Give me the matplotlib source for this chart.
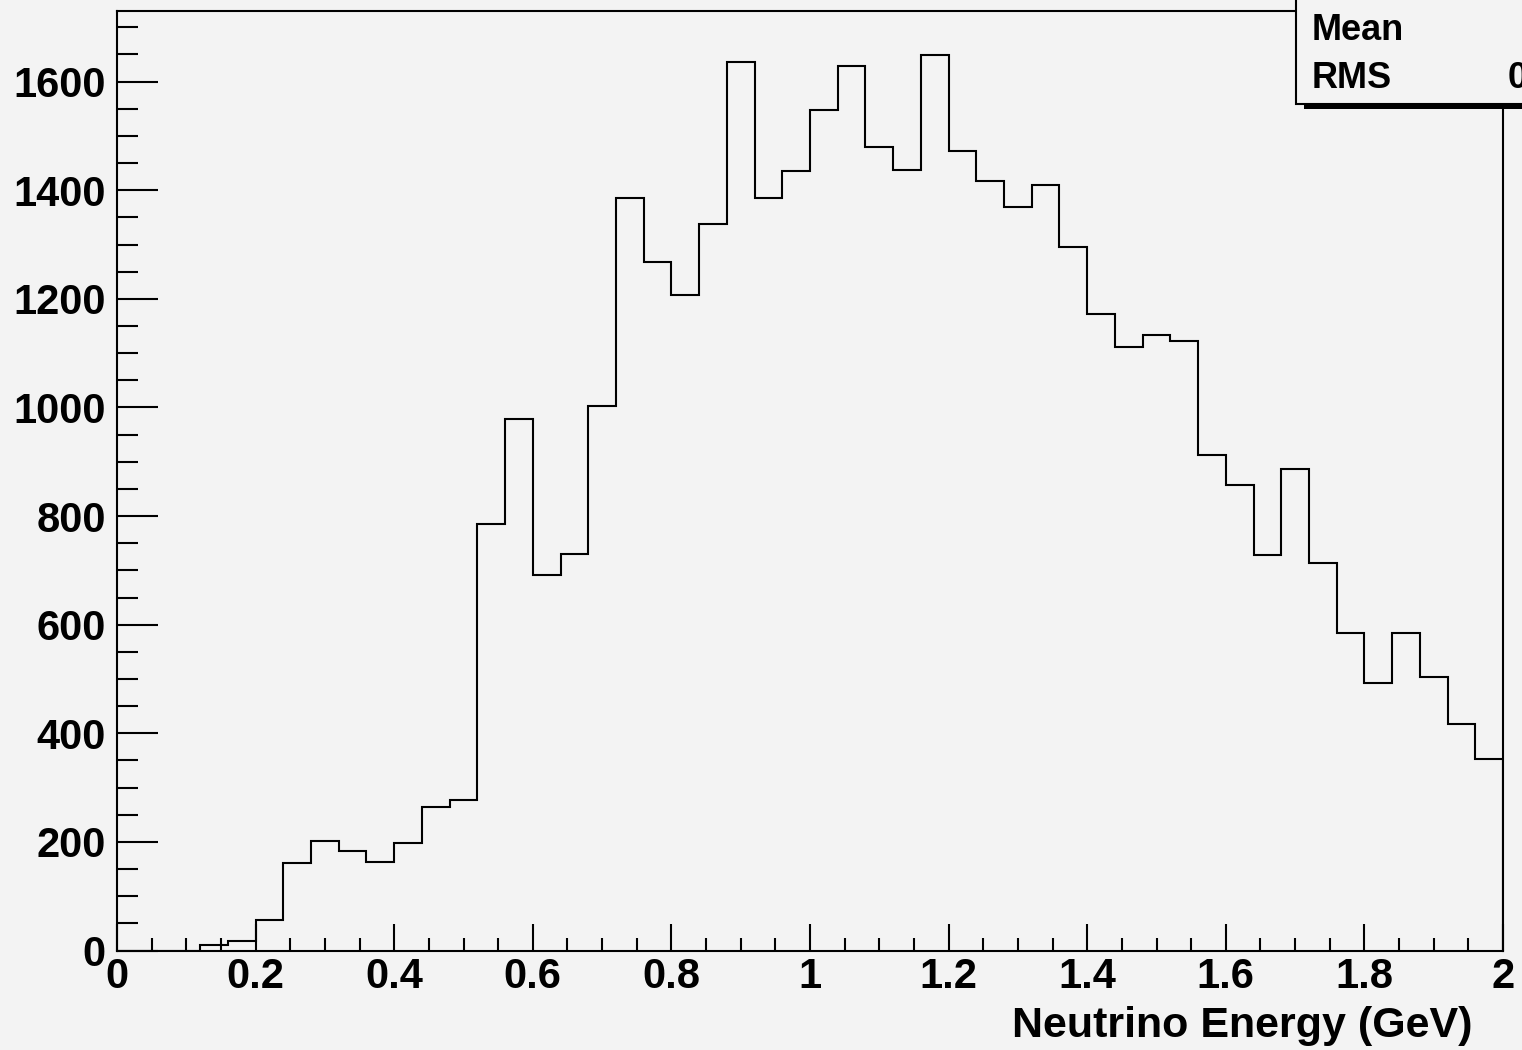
import numpy as np
import matplotlib
matplotlib.use("Agg")
import matplotlib.pyplot as plt
from matplotlib.patches import Rectangle
from matplotlib.ticker import MultipleLocator, FuncFormatter

# 50 bins of 0.04 GeV between 0 and 2 GeV
E_MIN, E_MAX, N_BINS = 0.0, 2.0, 50
counts = [
    0, 0, 0, 10, 17, 57, 162, 202, 184, 163,
    198, 264, 278, 786, 979, 691, 731, 1002, 1386, 1268,
    1208, 1338, 1637, 1386, 1435, 1548, 1628, 1479, 1438, 1649,
    1473, 1417, 1370, 1410, 1296, 1172, 1111, 1134, 1123, 912,
    857, 729, 887, 713, 584, 492, 584, 503, 418, 352,
]
x_label = "Neutrino Energy (GeV)"
stat_names = ["Mean", "RMS"]

BG = "#f3f3f3"
plt.rcParams["font.family"] = ["Liberation Sans", "DejaVu Sans"]
plt.rcParams["font.weight"] = "bold"

edges = np.linspace(E_MIN, E_MAX, N_BINS + 1)
centers = 0.5 * (edges[:-1] + edges[1:])
w = np.asarray(counts, dtype=float)
mean = np.sum(w * centers) / w.sum()
rms = np.sqrt(np.sum(w * (centers - mean) ** 2) / w.sum())

W, H = 1522, 1050
fig = plt.figure(figsize=(W / 100, H / 100), dpi=100, facecolor=BG)
ax = fig.add_axes([117 / W, 1 - 950.5 / H, (1503 - 117) / W, (950.5 - 10.5) / H])
ax.set_facecolor(BG)

ax.stairs(counts, edges, color="black", linewidth=1.5, zorder=3)

ax.set_xlim(E_MIN, E_MAX)
ax.set_ylim(0, 1731)

ax.xaxis.set_major_locator(MultipleLocator(0.2))
ax.xaxis.set_minor_locator(MultipleLocator(0.05))
ax.yaxis.set_major_locator(MultipleLocator(200))
ax.yaxis.set_minor_locator(MultipleLocator(50))
ax.xaxis.set_major_formatter(FuncFormatter(lambda v, _: f"{v:g}"))
ax.yaxis.set_major_formatter(FuncFormatter(lambda v, _: f"{v:g}"))

for s in ax.spines.values():
    s.set_linewidth(1.5)

ax.tick_params(axis="x", which="major", direction="in", length=19.5, width=1.5,
               labelsize=30, pad=5, top=False)
ax.tick_params(axis="x", which="minor", direction="in", length=9.5, width=1.5, top=False)
ax.tick_params(axis="y", which="major", direction="in", length=29.5, width=1.5,
               labelsize=30, pad=8, right=False)
ax.tick_params(axis="y", which="minor", direction="in", length=15, width=1.5, right=False)
for lab in ax.get_xticklabels() + ax.get_yticklabels():
    lab.set_fontweight("bold")

fig.text(1472 / W, 1 - 1026 / H, x_label, ha="right", va="center",
         fontsize=31, fontweight="bold")

# ROOT-style statistics box, partly cut by the canvas edge
shadow = Rectangle((1304 / W, 1 - 108.7 / H), 0.3, 0.2, transform=fig.transFigure,
                   facecolor="black", edgecolor="none", zorder=5)
box = Rectangle((1296 / W, 1 - 103.5 / H), 0.3, 0.2, transform=fig.transFigure,
                facecolor=BG, edgecolor="black", linewidth=1.5, zorder=6)
fig.add_artist(shadow)
fig.add_artist(box)
for i, name in enumerate(stat_names):
    yy = 1 - (31 + 47 * i) / H
    fig.text(1312 / W, yy, name, ha="left", va="center", fontsize=26,
             fontweight="bold", zorder=7)
# only the first digit of the RMS value fits on the canvas
fig.text(1508 / W, 1 - 78 / H, f"{rms:.4g}", ha="left", va="center", fontsize=26,
         fontweight="bold", zorder=7)

fig.savefig("out.png", dpi=100, facecolor=BG)
